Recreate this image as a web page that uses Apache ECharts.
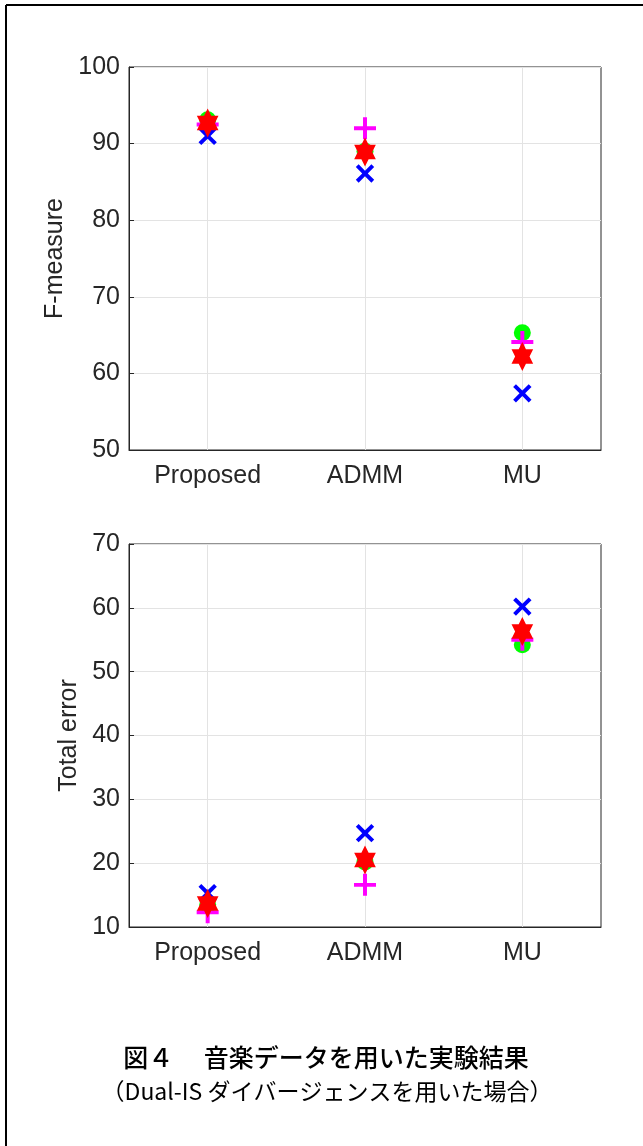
<!DOCTYPE html>
<html>
<head>
<meta charset="utf-8">
<script src="https://cdn.jsdelivr.net/npm/echarts@6/dist/echarts.min.js"></script>
<style>
  html, body { margin: 0; padding: 0; background: #fff; }
  #main { width: 643px; height: 1146px; }
</style>
</head>
<body>
<div id="main"></div>
<script>
const categories = ['Proposed', 'ADMM', 'MU'];

// F-measure (top panel)
const fCircle = [93.1, 89.0, 65.3];
const fPlus = [92.5, 92.0, 64.1];
const fCross = [91.0, 86.1, 57.4];
const fStar = [92.7, 88.9, 62.2];

// Total error (bottom panel)
const eCircle = [13.5, 20.2, 54.2];
const ePlus = [12.3, 16.6, 55.0];
const eCross = [15.3, 24.7, 60.2];
const eStar = [13.7, 20.5, 56.3];

const fTicks = [50, 100, 10];
const eTicks = [10, 70, 10];

const PLUS = 'path://M-0.9,-5L0.9,-5L0.9,-0.9L5,-0.9L5,0.9L0.9,0.9L0.9,5L-0.9,5L-0.9,0.9L-5,0.9L-5,-0.9L-0.9,-0.9Z';
const STAR = 'path://M0,-10L2.89,-5L8.66,-5L5.77,0L8.66,5L2.89,5L0,10L-2.89,5L-8.66,5L-5.77,0L-8.66,-5L-2.89,-5Z';

const axisColor = '#262626';
const font = 'Liberation Sans, Arial, sans-serif';

var chartDom = document.getElementById('main');
var myChart = echarts.init(chartDom);

const makeX = (idx) => ({
    type: 'category',
    gridIndex: idx,
    data: categories,
    boundaryGap: true,
    axisLine: { lineStyle: { color: axisColor, width: 1 } },
    axisTick: { alignWithLabel: true, inside: true, length: 5, lineStyle: { color: axisColor } },
    axisLabel: { color: axisColor, fontSize: 25, fontFamily: font, margin: 14 },
    splitLine: { show: true, alignWithLabel: true, lineStyle: { color: '#e3e3e3' } }
});

const makeY = (idx, t, name, gap) => ({
    type: 'value',
    gridIndex: idx,
    min: t[0], max: t[1], interval: t[2],
    name: name,
    nameLocation: 'middle',
    nameGap: gap,
    nameTextStyle: { color: axisColor, fontSize: 25, fontFamily: font },
    axisLine: { show: true, lineStyle: { color: axisColor, width: 1 } },
    axisTick: { show: true, inside: true, length: 5, lineStyle: { color: axisColor } },
    axisLabel: { color: axisColor, fontSize: 25, fontFamily: font, margin: 9 },
    splitLine: { show: true, lineStyle: { color: '#e3e3e3' } }
});

const makeSeries = (idx, vals) => [
    { type: 'scatter', xAxisIndex: idx, yAxisIndex: idx, data: vals[0],
      symbol: 'circle', symbolSize: 17, itemStyle: { color: '#00ff00', opacity: 1 } },
    { type: 'scatter', xAxisIndex: idx, yAxisIndex: idx, data: vals[1],
      symbol: PLUS, symbolSize: 22, itemStyle: { color: '#ff00ff', opacity: 1 } },
    { type: 'scatter', xAxisIndex: idx, yAxisIndex: idx, data: vals[2],
      symbol: PLUS, symbolSize: 22, symbolRotate: 45, itemStyle: { color: '#0000ff', opacity: 1 } },
    { type: 'scatter', xAxisIndex: idx, yAxisIndex: idx, data: vals[3],
      symbol: STAR, symbolSize: [25, 29], symbolKeepAspect: true, itemStyle: { color: '#ff0000', opacity: 1 } }
];

var option = {
    animation: false,
    backgroundColor: '#ffffff',
    grid: [
        { left: 129, top: 67, width: 472, height: 383, show: true, borderColor: axisColor, borderWidth: 1 },
        { left: 129, top: 544, width: 472, height: 383, show: true, borderColor: axisColor, borderWidth: 1 }
    ],
    xAxis: [makeX(0), makeX(1)],
    yAxis: [makeY(0, fTicks, 'F-measure', 56), makeY(1, eTicks, 'Total error', 46)],
    series: [].concat(
        makeSeries(0, [fCircle, fPlus, fCross, fStar]),
        makeSeries(1, [eCircle, ePlus, eCross, eStar])
    ),
    graphic: [
        { type: 'line', shape: { x1: 6, y1: 5, x2: 643, y2: 5 }, style: { stroke: '#000', lineWidth: 2 } },
        { type: 'line', shape: { x1: 6, y1: 5, x2: 6, y2: 1146 }, style: { stroke: '#000', lineWidth: 2 } },
        { type: 'text', x: 326, y: 1057,
          style: { text: '図４　 音楽データを用いた実験結果', fill: '#000', font: '500 25px "Noto Sans CJK JP"', textAlign: 'center', textVerticalAlign: 'middle' } },
        { type: 'text', x: 327, y: 1091,
          style: { text: '（Dual-IS ダイバージェンスを用いた場合）', fill: '#000', font: '23px "Noto Sans CJK JP"', textAlign: 'center', textVerticalAlign: 'middle' } }
    ]
};

myChart.setOption(option);
</script>
</body>
</html>
